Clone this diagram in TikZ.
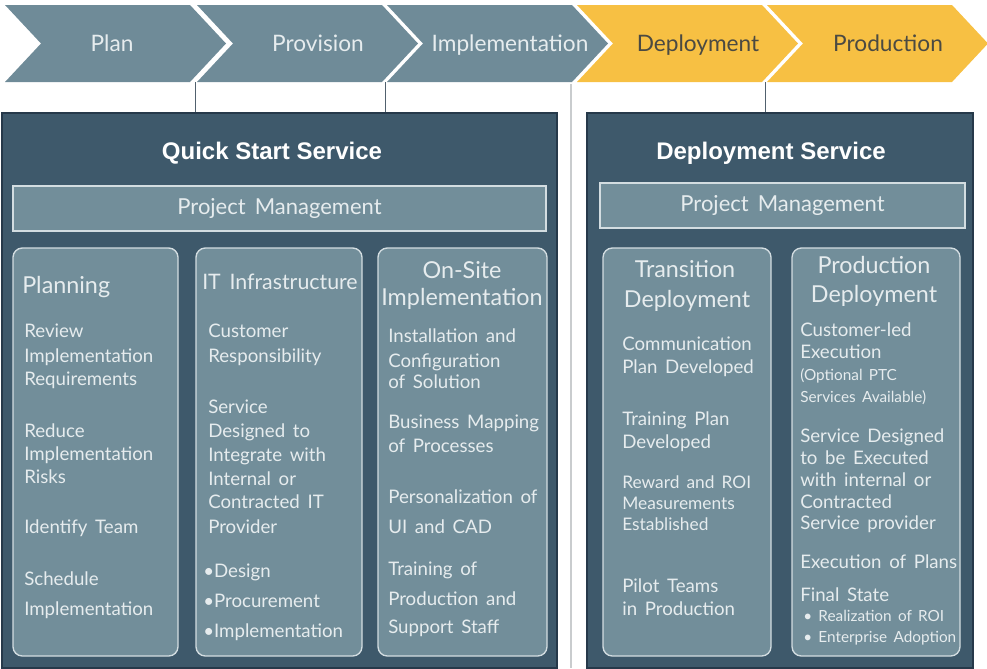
\documentclass[tikz,border=0pt]{standalone}
\usepackage{fontspec}
\setmainfont{Lato}[WordSpace=1.6]
\newfontfamily\headfont{Liberation Sans}
\usetikzlibrary{fit}

\definecolor{chevgray}{HTML}{6F8B98}
\definecolor{chevyellow}{HTML}{F7C043}
\definecolor{boxdark}{HTML}{3E596B}
\definecolor{boxedge}{HTML}{26394A}
\definecolor{panelfill}{HTML}{728E9A}
\definecolor{paneledge}{HTML}{D3DDE1}
\definecolor{textlight}{HTML}{E6ECEE}
\definecolor{textdark}{HTML}{4B4A42}
\definecolor{sepgray}{HTML}{C9CCCE}

\tikzset{
  svcbox/.style={draw=boxedge, fill=boxdark, line width=1pt, inner sep=0pt},
  pmbar/.style={draw=paneledge, fill=panelfill, line width=1pt, inner sep=0pt},
  pmtext/.style={inner sep=0pt, text=textlight, font=\fontsize{16.5}{18}\selectfont},
  panel/.style={draw=paneledge, fill=panelfill, line width=1pt, rounded corners=7pt, inner sep=0pt},
  phase/.style={anchor=base, inner sep=0pt, font=\fontsize{17}{19}\selectfont},
  header/.style={anchor=base, inner sep=0pt, text=white, font=\headfont\bfseries\fontsize{18}{20}\selectfont},
  ptitle/.style={anchor=base, inner sep=0pt, text=textlight, font=\fontsize{17.5}{19}\selectfont},
  item/.style={anchor=base west, inner sep=0pt, text=textlight, font=\fontsize{14}{16}\selectfont},
  smallitem/.style={item, font=\fontsize{11.5}{13}\selectfont},
  conn/.style={draw=boxedge!80, line width=0.6pt}
}

\begin{document}
\begin{tikzpicture}[x=0.75pt, y=-0.75pt]
        \useasboundingbox (0,0) rectangle (987,668);
        % phases
        \foreach \x/\tx/\lab/\col/\tcol [count=\i] in {5/112/Plan/chevgray/textlight, 197/318/Provision/chevgray/textlight,
            387/510/Implementation/chevgray/textlight, 577/698/Deployment/chevyellow/textdark,
            767/888/Production/chevyellow/textdark} {
          \fill[\col] (\x,5) -- ++(185,0) -- ++(36,38.5) -- ++(-36,38.5) -- ++(-185,0) -- ++(36,-38.5) -- cycle;
          \node[phase, text=\tcol] (ph\i) at (\tx,51) {\lab};
          \coordinate (jn\i) at (\x-2,82);
        }
        % separator
        \draw[sepgray, line width=1.5pt] (571,84) -- (571,668);
        % services
        \node[svcbox, fit={(2,113) (557,668)}] (qss) {};
        \node[svcbox, fit={(587,113) (973,668)}] (dsv) {};
        \draw[conn] (jn2) -- (jn2 |- qss.north);
        \draw[conn] (jn3) -- (jn3 |- qss.north);
        \draw[conn] (jn5) -- (jn5 |- dsv.north);
        \node[header] (qsst) at (272,159) {Quick Start Service};
        \node[header] (dsvt) at (771,159) {Deployment Service};
        \node[pmbar, fit={(13,186) (546,231)}] (pmq) {};
        \node[pmtext] (pmqt) at (pmq) {Project Management};
        \node[pmbar, fit={(600,183) (965,228)}] (pmd) {};
        \node[pmtext] (pmdt) at (pmd) {Project Management};
        % panels
        \node[panel, fit={(13,248) (178,656)}] (plan) {};
        \node[panel, fit={(196,248) (362,656)}] (infra) {};
        \node[panel, fit={(378,248) (547,656)}] (onsite) {};
        \node[panel, fit={(603,248) (771,656)}] (trans) {};
        \node[panel, fit={(792,248) (960,656)}] (prod) {};
        %
        \node[ptitle, anchor=base west] (plant) at (22,293) {Planning};
        \foreach \y/\t [count=\k] in {337/Review, 362/Implementation, 385/Requirements, 437/Reduce,
            460/Implementation, 483/Risks, 533/Identify Team, 585/Schedule, 615/Implementation}
          \node[item] (pl\k) at (24,\y) {\t};
        %
        \node[ptitle, anchor=base west, font=\fontsize{16}{18}\selectfont] (infrat) at (202,289) {IT Infrastructure};
        \foreach \y/\t [count=\k] in {337/Customer, 362/Responsibility, 413/Service, 437/Designed to,
            461/Integrate with, 485/Internal or, 508/Contracted IT, 533/Provider}
          \node[item] (it\k) at (208,\y) {\t};
        \foreach \y/\t [count=\k] in {577/Design, 607/Procurement, 637/Implementation}
          \node[item] (itb\k) at (203,\y) {•\t};
        %
        \node[ptitle] (onsitet1) at (462,278) {On-Site};
        \node[ptitle] (onsitet2) at (462,305) {Implementation};
        \foreach \y/\t [count=\k] in {342/Installation and, 367/Configuration, 388/of Solution,
            428/Business Mapping, 452/of Processes, 503/Personalization of, 533/UI and CAD,
            575/Training of, 605/Production and, 633/Support Staff}
          \node[item] (os\k) at (388,\y) {\t};
        %
        \node[ptitle] (transt1) at (685,277) {Transition};
        \node[ptitle] (transt2) at (687,307) {Deployment};
        \foreach \y/\t [count=\k] in {350/Communication, 373/Plan Developed, 425/Training Plan,
            448/Developed, 592/Pilot Teams, 615/in Production}
          \node[item] (tr\k) at (622,\y) {\t};
        \foreach \y/\t [count=\k] in {488/Reward and ROI, 509/Measurements, 530/Established}
          \node[item, font=\fontsize{13}{15}\selectfont] (trs\k) at (622,\y) {\t};
        %
        \node[ptitle] (prodt1) at (874,273) {Production};
        \node[ptitle] (prodt2) at (874,302) {Deployment};
        \foreach \y/\t [count=\k] in {336/Customer-led, 358/Execution, 442/Service Designed,
            464/to be Executed, 486/with internal or, 508/Contracted, 529/Service provider,
            568/Execution of Plans, 601/Final State}
          \node[item] (pr\k) at (800,\y) {\t};
        \node[smallitem] (prs1) at (800,380) {(Optional PTC};
        \node[smallitem] (prs2) at (800,402) {Services Available)};
        \node[smallitem] (prs3) at (803,621) {•\ Realization of ROI};
        \node[smallitem] (prs4) at (803,642) {•\ Enterprise Adoption};
\end{tikzpicture}
\end{document}
